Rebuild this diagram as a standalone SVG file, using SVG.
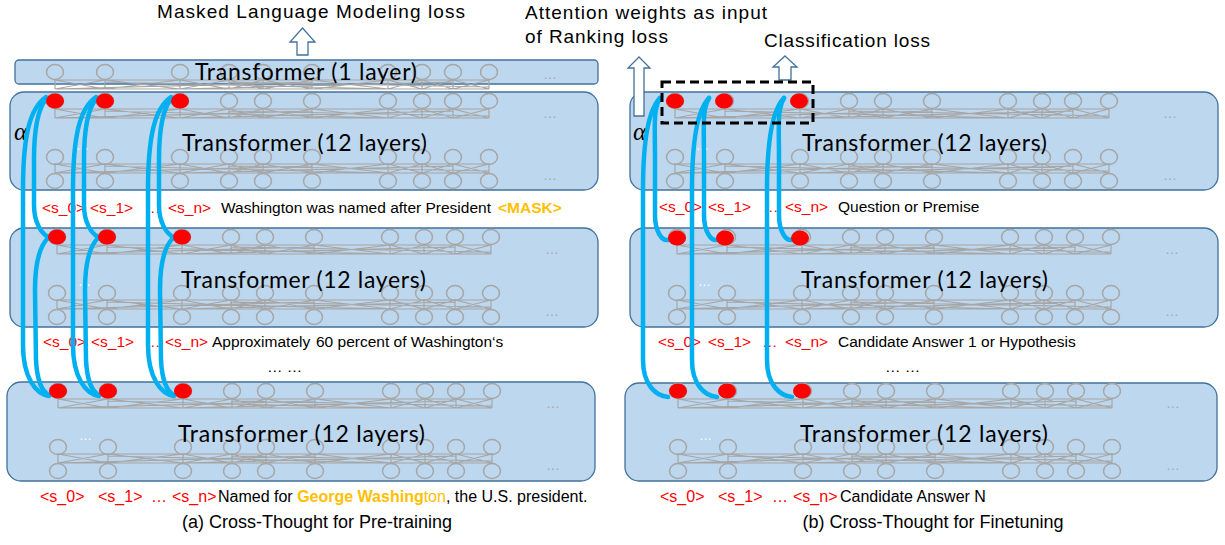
<svg xmlns="http://www.w3.org/2000/svg" width="1225" height="545" viewBox="0 0 1225 545">
<style>
.box{fill:#bdd7ee;stroke:#41719c;stroke-width:1.3}
.nc{fill:none;stroke:#a6a6a6;stroke-width:1.5}
.ml{fill:none;stroke:#a6a6a6;stroke-width:1.2}
.red{fill:#ff0000}
.tf{font-family:"Lato","Liberation Sans",sans-serif;font-size:23px;fill:#000}
.lab{font-family:"Liberation Sans",Arial,sans-serif;font-size:15.5px;fill:#000}
.tok{fill:#ff0000}
.gold{fill:#ffc000}
.b{font-weight:bold}
.cap{font-family:"Liberation Sans",Arial,sans-serif;font-size:18px;fill:#000}
.top{font-family:"Liberation Sans",Arial,sans-serif;font-size:19px;fill:#000}
.curve{fill:none;stroke:#00b0f0;stroke-width:4.5;stroke-linecap:round}
.arrow{fill:#fff;stroke:#41719c;stroke-width:1.3}
.gd{font-family:"Liberation Sans",sans-serif;font-size:14px;fill:#a6a6a6}
.wd{font-family:"Liberation Sans",sans-serif;font-size:13px;fill:#fff}
.alpha{font-family:"Liberation Serif",serif;font-style:italic;font-size:25px;fill:#000}
</style>
<defs>
<g id="row" class="nc">
<ellipse cx="45" cy="0" rx="8.5" ry="7.5"/><ellipse cx="95" cy="0" rx="8.5" ry="7.5"/><ellipse cx="170" cy="0" rx="8.5" ry="7.5"/><ellipse cx="219" cy="0" rx="8.5" ry="7.5"/><ellipse cx="253" cy="0" rx="8.5" ry="7.5"/><ellipse cx="302" cy="0" rx="8.5" ry="7.5"/><ellipse cx="378" cy="0" rx="8.5" ry="7.5"/><ellipse cx="412" cy="0" rx="8.5" ry="7.5"/><ellipse cx="443" cy="0" rx="8.5" ry="7.5"/><ellipse cx="479" cy="0" rx="8.5" ry="7.5"/>
</g>
<path id="mesh" class="ml" d="M45,0H479M45,9H479M45,-1V9M95,-1V9M170,-1V9M219,-1V9M253,-1V9M302,-1V9M378,-1V9M412,-1V9M443,-1V9M479,-1V9M45,0L95,9M45,9L95,0M95,0L170,9M95,9L170,0M170,0L219,9M170,9L219,0M219,0L253,9M219,9L253,0M253,0L302,9M253,9L302,0M302,0L378,9M302,9L378,0M378,0L412,9M378,9L412,0M412,0L443,9M412,9L443,0M443,0L479,9M443,9L479,0M45,9L302,2M95,2L378,9M170,9L443,2M219,2L479,7"/>
<g id="net">
<use href="#row" y="9"/><use href="#mesh" y="17"/><use href="#row" y="65"/><use href="#mesh" y="72"/><use href="#row" y="89"/>
<text class="gd" x="533" y="26">…</text><text class="gd" x="533" y="88">…</text>
<text class="wd" x="66" y="58">…</text>
</g>
<g id="lc">
<path class="curve" d="M46,97 C30,108 23,135 23,190 L23,345 C23,378 36,394 49,396"/>
<path class="curve" d="M46,99 C37,110 34,130 34,160 L34,205 C34,222 41,233 48,237"/>
<path class="curve" d="M48,238 C40,246 35,262 35,290 L36,360 C37,380 42,392 49,395"/>
</g>
<g id="rc">
<path class="curve" d="M660,98 C648,110 643,140 643,190 L643,360 C643,385 656,396 668,397"/>
<path class="curve" d="M660,98 C653,110 655,125 655,160 L655,215 C655,232 662,241 668,240"/>
</g>
</defs>

<g id="title-texts">
<text class="top" x="157" y="18" textLength="308">Masked Language Modeling loss</text>
<text class="top" x="525" y="19" textLength="242">Attention weights as input</text>
<text class="top" x="525" y="43" textLength="143">of Ranking loss</text>
<text class="top" x="764" y="47" textLength="166">Classification loss</text>
</g>

<g id="tf-1layer">
<rect class="box" x="15" y="60" width="583" height="24" rx="4"/>
<use href="#row" x="10" y="72"/><use href="#mesh" x="10" y="80"/>
<text class="gd" x="543" y="79">…</text>
<text class="tf" x="195" y="80" textLength="222">Transformer (1 layer)</text>
</g>

<g id="left-tf-a">
<rect class="box" x="10" y="92" width="588" height="98" rx="14"/>
<use href="#net" x="10" y="92"/>
<text class="tf" x="182" y="151" textLength="245">Transformer (12 layers)</text>
</g>
<g id="left-tf-b">
<rect class="box" x="10" y="228" width="588" height="99" rx="14"/>
<use href="#net" x="12" y="228"/>
<text class="tf" x="181" y="288" textLength="245">Transformer (12 layers)</text>
</g>
<g id="left-tf-c">
<rect class="box" x="7" y="382" width="588" height="99" rx="14"/>
<use href="#net" x="13" y="382"/>
<text class="tf" x="178" y="442" textLength="247">Transformer (12 layers)</text>
</g>

<g id="right-tf-a">
<rect class="box" x="630" y="92" width="588" height="98" rx="14"/>
<use href="#net" x="630" y="92"/>
<text class="tf" x="802" y="151" textLength="245">Transformer (12 layers)</text>
</g>
<g id="right-tf-b">
<rect class="box" x="630" y="228" width="588" height="99" rx="14"/>
<use href="#net" x="632" y="228"/>
<text class="tf" x="801" y="288" textLength="247">Transformer (12 layers)</text>
</g>
<g id="right-tf-c">
<rect class="box" x="625" y="383" width="592" height="98" rx="14"/>
<use href="#net" x="633" y="382"/>
<text class="tf" x="800" y="442" textLength="248">Transformer (12 layers)</text>
</g>

<g id="labels">
<text class="lab tok" x="42" y="213">&lt;s_0&gt;</text><text class="lab tok" x="90" y="213">&lt;s_1&gt;</text><text class="lab tok" x="145" y="213">…</text><text class="lab tok" x="168" y="213">&lt;s_n&gt;</text>
<text class="lab" x="221" y="213">Washington was named after President</text><text class="lab gold b" x="498" y="213">&lt;MASK&gt;</text>
<text class="lab tok" x="43" y="347">&lt;s_0&gt;</text><text class="lab tok" x="91" y="347">&lt;s_1&gt;</text><text class="lab tok" x="145" y="347">…</text><text class="lab tok" x="165" y="347">&lt;s_n&gt;</text>
<text class="lab" x="212" y="347">Approximately</text><text class="lab" x="316" y="347">60 percent of Washington‘s</text>
<text class="lab" x="267" y="372">… …</text>
<text class="lab tok" x="40" y="502" style="font-size:16px">&lt;s_0&gt;</text><text class="lab tok" x="98" y="502" style="font-size:16px">&lt;s_1&gt;</text><text class="lab tok" x="151" y="502" style="font-size:16px">…</text><text class="lab tok" x="172" y="502" style="font-size:16px">&lt;s_n&gt;</text>
<text class="lab" x="218" y="502" style="font-size:16px">Named for <tspan class="gold b">George Washing</tspan><tspan class="gold">ton</tspan>, the U.S. president.</text>
<text class="cap" x="317" y="528" text-anchor="middle">(a) Cross-Thought for Pre-training</text>

<text class="lab tok" x="659" y="212">&lt;s_0&gt;</text><text class="lab tok" x="708" y="212">&lt;s_1&gt;</text><text class="lab tok" x="763" y="212">…</text><text class="lab tok" x="785" y="212">&lt;s_n&gt;</text>
<text class="lab" x="838" y="212">Question or Premise</text>
<text class="lab tok" x="658" y="347">&lt;s_0&gt;</text><text class="lab tok" x="708" y="347">&lt;s_1&gt;</text><text class="lab tok" x="762" y="347">…</text><text class="lab tok" x="785" y="347">&lt;s_n&gt;</text>
<text class="lab" x="838" y="347">Candidate Answer 1 or Hypothesis</text>
<text class="lab" x="885" y="372">… …</text>
<text class="lab tok" x="660" y="502" style="font-size:16px">&lt;s_0&gt;</text><text class="lab tok" x="718" y="502" style="font-size:16px">&lt;s_1&gt;</text><text class="lab tok" x="772" y="502" style="font-size:16px">…</text><text class="lab tok" x="793" y="502" style="font-size:16px">&lt;s_n&gt;</text>
<text class="lab" x="840" y="502" style="font-size:16px">Candidate Answer N</text>
<text class="cap" x="933" y="528" text-anchor="middle">(b) Cross-Thought for Finetuning</text>

<text class="alpha" x="14" y="140">α</text>
<text class="alpha" x="633" y="140">α</text>
</g>

<g id="connectors">
<use href="#lc"/><use href="#lc" x="50"/><use href="#lc" x="125"/>
<use href="#rc"/><use href="#rc" x="49"/><use href="#rc" x="124"/>
<polygon class="arrow" points="302.5,28 315,42 308,42 308,55 297,55 297,42 290,42"/>
<polygon class="arrow" points="639,57 650,68 644,68 644,116 634,116 634,68 628,68"/>
<polygon class="arrow" points="785,56 797,67 791,67 791,80 779,80 779,67 773,67"/>
</g>

<g id="attention-dots" class="red">
<ellipse cx="55" cy="101" rx="9" ry="7.5"/><ellipse cx="105" cy="101" rx="9" ry="7.5"/><ellipse cx="180" cy="101" rx="9" ry="7.5"/>
<ellipse cx="57" cy="237" rx="9" ry="7.5"/><ellipse cx="107" cy="237" rx="9" ry="7.5"/><ellipse cx="182" cy="237" rx="9" ry="7.5"/>
<ellipse cx="58" cy="391" rx="9" ry="7.5"/><ellipse cx="108" cy="391" rx="9" ry="7.5"/><ellipse cx="183" cy="391" rx="9" ry="7.5"/>
<ellipse cx="675" cy="101" rx="9" ry="7.5"/><ellipse cx="724" cy="101" rx="9" ry="7.5"/><ellipse cx="799" cy="101" rx="9" ry="7.5"/>
<ellipse cx="677" cy="238" rx="9" ry="7.5"/><ellipse cx="725" cy="238" rx="9" ry="7.5"/><ellipse cx="800" cy="238" rx="9" ry="7.5"/>
<ellipse cx="678" cy="391" rx="9" ry="7.5"/><ellipse cx="727" cy="391" rx="9" ry="7.5"/><ellipse cx="802" cy="391" rx="9" ry="7.5"/>
</g>

<g id="cls-select">
<rect x="662" y="82" width="151" height="41" fill="none" stroke="#000" stroke-width="3" stroke-dasharray="9,5"/>
</g>
</svg>
